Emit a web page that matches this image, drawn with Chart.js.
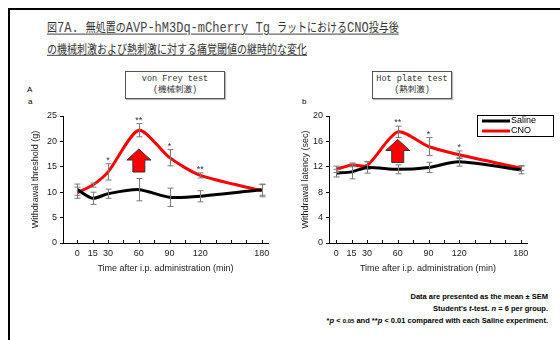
<!DOCTYPE html>
<html>
<head>
<meta charset="utf-8">
<script src="https://cdn.jsdelivr.net/npm/chart.js@4"></script>
<style>
  html, body { margin: 0; padding: 0; background: #fff; }
  #slide { position: relative; width: 560px; height: 340px; overflow: hidden; }
  #frame { position: absolute; left: 8px; top: 8px; width: 600px; height: 400px; border: 2px solid #000; box-sizing: border-box; }
  #title { position: absolute; left: 47px; top: 16px; font: 10px/17px "Noto Sans CJK JP", sans-serif; color: #333; text-decoration: underline; text-decoration-color: #666; white-space: nowrap; transform: scale(1, 1.25); transform-origin: 0 0; }
  #title .l { font: 12px "Liberation Mono", monospace; color: #444; }
  .box { position: absolute; border: 1px solid #555; background: #fff; box-shadow: 1px 1px 1px #bbb; text-align: center; font: 8.5px/11px "Liberation Mono", "Noto Sans CJK JP", monospace; color: #333; padding: 2px 0; white-space: nowrap; }
  .lbl { position: absolute; font: 8px "Liberation Sans", Arial, sans-serif; color: #000; }
  canvas { position: absolute; }
  #note { position: absolute; right: 12px; top: 291px; text-align: right; font: bold 7.5px/12px "Liberation Sans", Arial, sans-serif; color: #000; }
  #note .s { font-size: 6px; }
</style>
</head>
<body>
<div id="slide">
  <div id="frame"></div>
  <div id="title">図<span class="l">7A. </span>無処置の<span class="l">AVP-hM3Dq-mCherry Tg </span>ラットにおける<span class="l">CNO</span>投与後<br>の機械刺激および熱刺激に対する痛覚閾値の継時的な変化</div>

  <div class="box" style="left:125px; top:71px; width:98px;">von Frey test<br>(機械刺激)</div>
  <div class="box" style="left:372px; top:71px; width:78px;">Hot plate test<br>(熱刺激)</div>
  <div class="lbl" style="left:27px; top:85px;">A</div>
  <div class="lbl" style="left:28px; top:97px;">a</div>
  <div class="lbl" style="left:302px; top:97px;">b</div>

  <canvas id="chartA" width="255" height="183" style="left:20px; top:100px;"></canvas>
  <canvas id="chartB" width="265" height="183" style="left:290px; top:100px;"></canvas>

  <div id="note">
    Data are presented as the mean ± SEM<br>
    Student's <i>t</i>-test. <i>n</i> = 6 per group.<br>
    *<i>p</i> &lt; <span class="s">0.05</span> and **<i>p</i> &lt; 0.01 compared with each Saline experiment.
  </div>
</div>

<script>
// 時間 (min)
const times = [0, 15, 30, 60, 90, 120, 180];
const xLabels = [0, 15, 30, 60, 90, 120, 180];

// a: von Frey test (g)
const vfSaline = [10.5, 8.8, 9.7, 10.5, 9.0, 9.2, 10.5];
const vfSalineSem = [1.1, 1.2, 0.9, 2.2, 1.8, 1.1, 1.1];
const vfCno = [9.9, 11.4, 14.0, 22.2, 16.8, 13.3, 10.3];
const vfCnoSem = [1.1, 0.4, 1.6, 1.3, 1.6, 0.5, 1.2];
const vfStars = ["", "", "*", "**", "*", "**", ""];

// b: Hot plate test (sec)
const hpSaline = [11.0, 11.2, 11.9, 11.6, 11.9, 12.8, 11.5];
const hpSalineSem = [0.6, 1.1, 0.9, 0.7, 0.8, 0.7, 0.6];
const hpCno = [11.6, 12.3, 12.2, 17.5, 15.2, 13.9, 11.8];
const hpCnoSem = [0.5, 0.3, 0.6, 0.9, 1.4, 0.6, 0.4];
const hpStars = ["", "", "", "**", "*", "*", ""];

// 矢印 (x: min, top: y値)
const vfArrow = { x: 60, top: 18.5 };
const hpArrow = { x: 60, top: 16.3 };

const FONT = "'Liberation Sans', Arial, sans-serif";

// エラーバー・有意差・矢印・凡例
const extras = {
  id: "extras",
  afterDatasetsDraw(chart, args, opts) {
    const ctx = chart.ctx;
    const xs = chart.scales.x, ys = chart.scales.y;
    ctx.save();
    // error bars
    ctx.strokeStyle = "#7a7a7a";
    ctx.lineWidth = 1;
    chart.data.datasets.forEach((ds, i) => {
      const sem = opts.sems[i];
      ds.data.forEach((p, j) => {
        const x = Math.round(xs.getPixelForValue(p.x)) + 0.5;
        const y1 = ys.getPixelForValue(p.y + sem[j]);
        const y2 = ys.getPixelForValue(p.y - sem[j]);
        ctx.beginPath();
        ctx.moveTo(x, y1); ctx.lineTo(x, y2);
        ctx.moveTo(x - 3, y1); ctx.lineTo(x + 3, y1);
        ctx.moveTo(x - 3, y2); ctx.lineTo(x + 3, y2);
        ctx.stroke();
      });
    });
    // stars
    const cno = chart.data.datasets[1];
    ctx.fillStyle = "#333";
    ctx.font = "9px " + FONT;
    ctx.textAlign = "center";
    ctx.textBaseline = "bottom";
    opts.stars.forEach((s, j) => {
      if (!s) return;
      const p = cno.data[j];
      const y = ys.getPixelForValue(p.y + opts.sems[1][j]);
      ctx.fillText(s, xs.getPixelForValue(p.x), y + 1);
    });
    // arrow
    const ax = xs.getPixelForValue(opts.arrow.x);
    const ay = ys.getPixelForValue(opts.arrow.top);
    ctx.beginPath();
    ctx.moveTo(ax, ay);
    ctx.lineTo(ax + 12, ay + 11);
    ctx.lineTo(ax + 6, ay + 11);
    ctx.lineTo(ax + 6, ay + 23);
    ctx.lineTo(ax - 6, ay + 23);
    ctx.lineTo(ax - 6, ay + 11);
    ctx.lineTo(ax - 12, ay + 11);
    ctx.closePath();
    ctx.fillStyle = "#ff0000";
    ctx.fill();
    ctx.strokeStyle = "#333";
    ctx.stroke();
    // x tick marks
    ctx.strokeStyle = "#000";
    for (let v = 0; v <= 180; v += 15) {
      const x = Math.round(xs.getPixelForValue(v)) + 0.5;
      ctx.beginPath();
      ctx.moveTo(x, xs.top); ctx.lineTo(x, xs.top - 3);
      ctx.stroke();
    }
    // legend
    if (opts.legend) {
      const lx = chart.chartArea.right - 50, ly = chart.chartArea.top - 1;
      ctx.fillStyle = "#fff";
      ctx.fillRect(lx, ly, 76, 21);
      ctx.strokeStyle = "#000";
      ctx.lineWidth = 1;
      ctx.strokeRect(lx + 0.5, ly + 0.5, 76, 21);
      ctx.font = "9px " + FONT;
      ctx.textAlign = "left";
      ctx.textBaseline = "middle";
      chart.data.datasets.forEach((ds, i) => {
        const yy = ly + 6 + i * 10;
        ctx.strokeStyle = ds.borderColor;
        ctx.lineWidth = 3;
        ctx.beginPath();
        ctx.moveTo(lx + 5, yy); ctx.lineTo(lx + 33, yy);
        ctx.stroke();
        ctx.fillStyle = "#000";
        ctx.fillText(ds.label, lx + 34, yy);
      });
    }
    ctx.restore();
  }
};

function makeChart(id, saline, salineSem, cno, cnoSem, stars, arrow, yMax, yStep, yTitle, xMin, yW, padR, legend) {
  const ctx = document.getElementById(id).getContext("2d");
  return new Chart(ctx, {
    type: "line",
    data: {
      datasets: [
        { label: "Saline", data: times.map((t, i) => ({ x: t, y: saline[i] })), borderColor: "#000", borderWidth: 3, pointRadius: 0, tension: 0.25, fill: false },
        { label: "CNO", data: times.map((t, i) => ({ x: t, y: cno[i] })), borderColor: "#ff0000", borderWidth: 3, pointRadius: 0, tension: 0.25, fill: false },
      ]
    },
    options: {
      responsive: false,
      animation: false,
      events: [],
      layout: { padding: { top: 16, right: padR, left: 0, bottom: 0 } },
      plugins: {
        legend: { display: false },
        tooltip: { enabled: false },
        extras: { sems: [salineSem, cnoSem], stars: stars, arrow: arrow, legend: legend },
      },
      scales: {
        x: {
          type: "linear", min: xMin, max: 186,
          afterBuildTicks: s => { s.ticks = xLabels.map(v => ({ value: v })); },
          afterFit: s => { s.height = 40; },
          grid: { drawOnChartArea: false, drawTicks: false },
          border: { color: "#000", width: 1 },
          ticks: { color: "#222", font: { family: FONT, size: 9 }, padding: 5, maxRotation: 0, autoSkip: false },
          title: { display: true, text: "Time after i.p. administration (min)", color: "#222", font: { family: FONT, size: 9 }, padding: { top: 2, bottom: 9 } },
        },
        y: {
          min: 0, max: yMax,
          ticks: { stepSize: yStep, color: "#222", font: { family: FONT, size: 9 }, padding: 3 },
          afterFit: s => { s.width = yW; },
          grid: { drawOnChartArea: false, tickLength: 3, color: "#000" },
          border: { color: "#000", width: 1 },
          title: { display: true, text: yTitle, color: "#222", font: { family: FONT, size: 9 }, padding: { top: 10, bottom: 0 } },
        }
      }
    },
    plugins: [extras]
  });
}

makeChart("chartA", vfSaline, vfSalineSem, vfCno, vfCnoSem, vfStars, vfArrow, 25, 5, "Withdrawal threshold (g)", -14, 43, 7, false);
makeChart("chartB", hpSaline, hpSalineSem, hpCno, hpCnoSem, hpStars, hpArrow, 20, 2, "Withdrawal latency (sec)", -7, 39, 28, true);
</script>
</body>
</html>
